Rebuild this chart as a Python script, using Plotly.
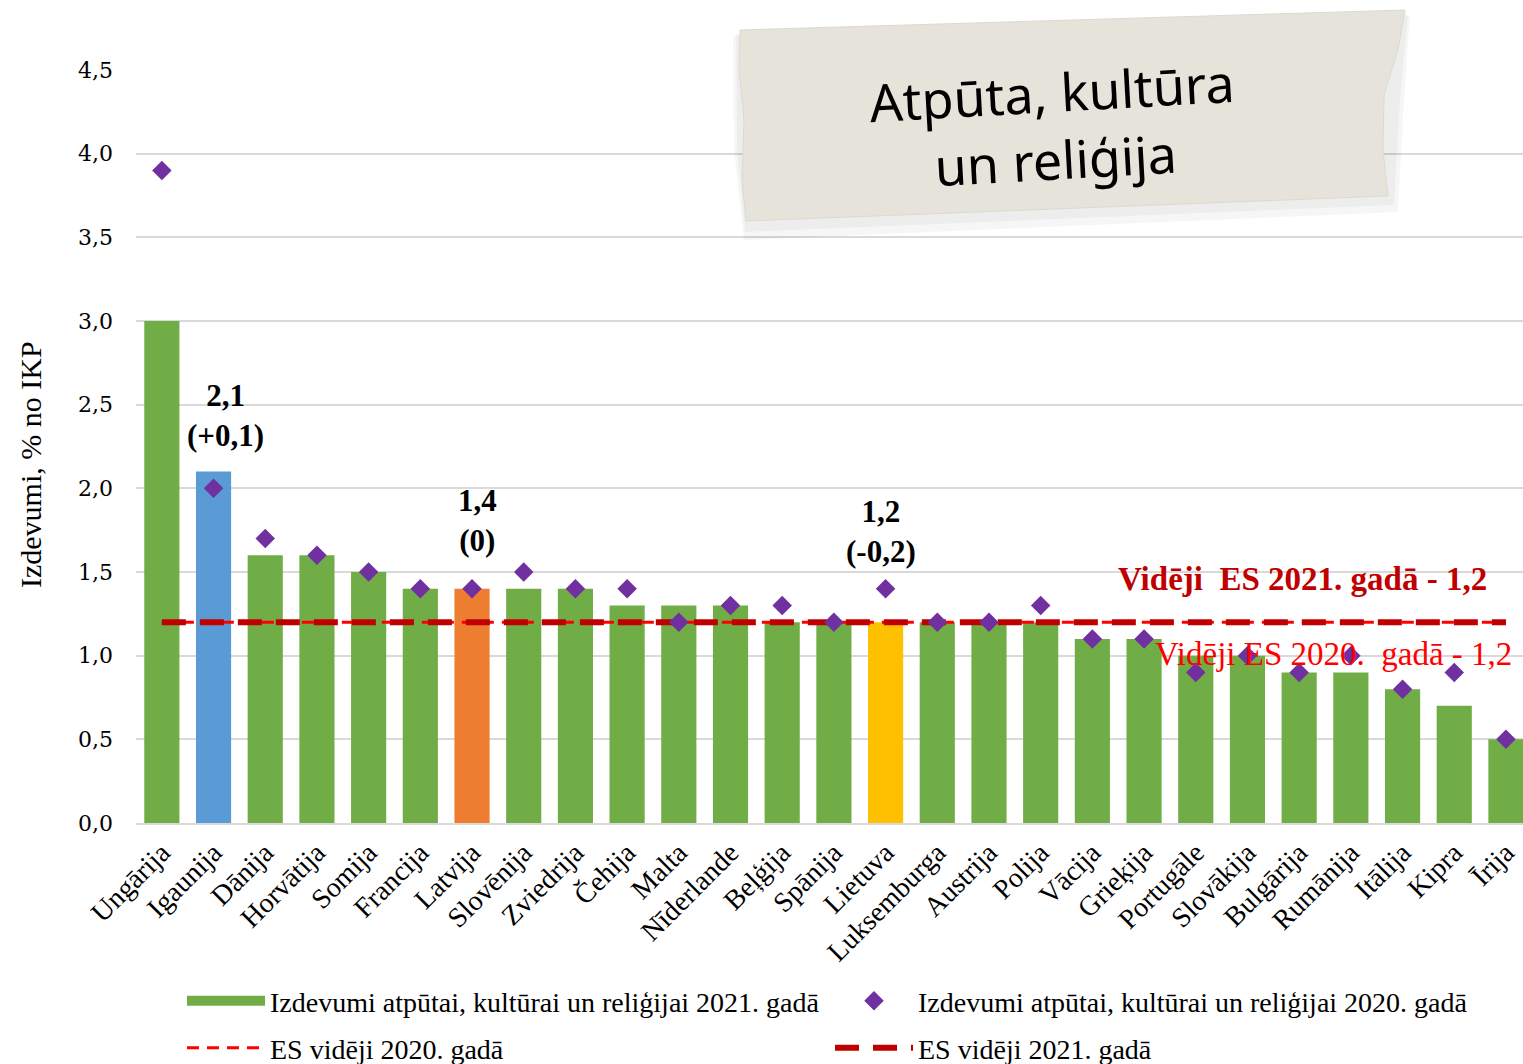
import plotly.graph_objects as go

countries = ["Ungārija", "Igaunija", "Dānija", "Horvātija", "Somija", "Francija", "Latvija",
             "Slovēnija", "Zviedrija", "Čehija", "Malta", "Nīderlande", "Beļģija", "Spānija",
             "Lietuva", "Luksemburga", "Austrija", "Polija", "Vācija", "Grieķija", "Portugāle",
             "Slovākija", "Bulgārija", "Rumānija", "Itālija", "Kipra", "Īrija"]
values_2021 = [3.0, 2.1, 1.6, 1.6, 1.5, 1.4, 1.4, 1.4, 1.4, 1.3, 1.3, 1.3, 1.2, 1.2,
               1.2, 1.2, 1.2, 1.2, 1.1, 1.1, 1.0, 1.0, 0.9, 0.9, 0.8, 0.7, 0.5]
values_2020 = [3.9, 2.0, 1.7, 1.6, 1.5, 1.4, 1.4, 1.5, 1.4, 1.4, 1.2, 1.3, 1.3, 1.2,
               1.4, 1.2, 1.2, 1.3, 1.1, 1.1, 0.9, 1.0, 0.9, 1.0, 0.8, 0.9, 0.5]
eu_avg_2020 = 1.2
eu_avg_2021 = 1.2
highlight = {"Igaunija": "#5b9bd5", "Latvija": "#ed7d31", "Lietuva": "#ffc000"}
labelled = ["Igaunija", "Latvija", "Lietuva"]
label_shift = {"Igaunija": (12, 56), "Latvija": (5, 68), "Lietuva": (-5, 91)}
y_ticks = [0.0, 0.5, 1.0, 1.5, 2.0, 2.5, 3.0, 3.5, 4.0, 4.5]

W, H = 1523, 1064
L, R, T, B = 136, 0, 70, 241
PW, PH = W - L - R, H - T - B


def px(x):
    return (x - L) / PW


def py(y):
    return (H - B - y) / PH


def fmt(v):
    return f"{v:.1f}".replace(".", ",")


SERIF = "Liberation Serif"
GREEN = "#70ad47"

fig = go.Figure()

bar_colors = [highlight.get(c, GREEN) for c in countries]
fig.add_trace(go.Bar(x=countries, y=values_2021, marker_color=bar_colors,
                     marker_line_width=0, width=0.68, showlegend=False,
                     name="Izdevumi atpūtai, kultūrai un reliģijai 2021. gadā"))
# legend entry for bars
fig.add_trace(go.Scatter(x=[None], y=[None], mode="lines",
                         line=dict(color=GREEN, width=14),
                         name="Izdevumi atpūtai, kultūrai un reliģijai 2021. gadā",
                         legend="legend"))
fig.add_trace(go.Scatter(x=countries, y=[eu_avg_2020] * len(countries), mode="lines",
                         line=dict(color="#ff0000", width=3, dash="12px,8px"),
                         name="ES vidēji 2020. gadā", legend="legend2"))
fig.add_trace(go.Scatter(x=countries, y=[eu_avg_2021] * len(countries), mode="lines",
                         line=dict(color="#c00000", width=6, dash="24px,14px"),
                         name="ES vidēji 2021. gadā", legend="legend2"))
fig.add_trace(go.Scatter(x=countries, y=values_2020, mode="markers",
                         marker=dict(symbol="diamond", size=15, color="#7030a0"),
                         name="Izdevumi atpūtai, kultūrai un reliģijai 2020. gadā",
                         legend="legend"))

annotations = []
for c in labelled:
    i = countries.index(c)
    d = values_2021[i] - values_2020[i]
    ds = "0" if abs(d) < 1e-9 else (("+" if d > 0 else "-") + fmt(abs(d)))
    annotations.append(dict(x=c, y=values_2021[i], xref="x", yref="y",
                            text=f"<b>{fmt(values_2021[i])}</b><br><b>({ds})</b>",
                            showarrow=False, xanchor="center", yanchor="middle",
                            xshift=label_shift[c][0], yshift=label_shift[c][1],
                            font=dict(family=SERIF, size=31, color="#000000")))

annotations.append(dict(x=px(1302), y=py(579), xref="paper", yref="paper",
                        xanchor="center", yanchor="middle",
                        text=f"<b>Vidēji  ES 2021. gadā - {fmt(eu_avg_2021)}</b>",
                        showarrow=False, font=dict(family=SERIF, size=33, color="#c00000")))
annotations.append(dict(x=px(1333), y=py(654), xref="paper", yref="paper",
                        xanchor="center", yanchor="middle",
                        text=f"Vidēji ES 2020.  gadā - {fmt(eu_avg_2020)}",
                        showarrow=False, font=dict(family=SERIF, size=33, color="#ff0000")))

# y-axis title
annotations.append(dict(x=px(30), y=py(465), xref="paper", yref="paper",
                        xanchor="center", yanchor="middle", textangle=-90,
                        text="Izdevumi, % no IKP", showarrow=False,
                        font=dict(family=SERIF, size=30, color="#000000")))

# title on tape
annotations.append(dict(x=px(1053), y=py(125), xref="paper", yref="paper",
                        xanchor="center", yanchor="middle",
                        text="Atpūta, kultūra<br>un reliģija", showarrow=False,
                        textangle=-3.2, align="center",
                        font=dict(family="Noto Sans", size=52, color="#000000")))

tape = [(740, 30), (1405, 10), (1398, 50), (1384, 95), (1383, 150), (1388, 196),
        (746, 221), (742, 180), (744, 120), (739, 70)]
shadows = [
    [(733, 36), (1410, 16), (1404, 100), (1398, 212), (744, 240), (734, 150)],
    [(736, 34), (1408, 14), (1400, 100), (1394, 205), (745, 232), (737, 150)],
]


def path(pts):
    return "M " + " L ".join(f"{px(x):.5f},{py(y):.5f}" for x, y in pts) + " Z"


shapes = [dict(type="path", path=path(s), xref="paper", yref="paper",
               fillcolor="rgba(0,0,0,0.035)", line=dict(width=0), layer="above")
          for s in shadows]
shapes.append(dict(type="path", path=path(tape), xref="paper", yref="paper",
                   fillcolor="#e5e3da", line=dict(color="#dcdad0", width=1), layer="above"))

fig.update_layout(
    width=W, height=H,
    margin=dict(l=L, r=R, t=T, b=B, autoexpand=False),
    paper_bgcolor="white", plot_bgcolor="white",
    separators=",.",
    bargap=0.32,
    annotations=annotations,
    shapes=shapes,
    xaxis=dict(range=[-0.5, 26.33], tickangle=-45, showgrid=False,
               showline=True, linecolor="#d9d9d9", linewidth=2, ticks="",
               tickfont=dict(family=SERIF, size=28, color="#000000")),
    yaxis=dict(range=[0, 4.5], tickvals=y_ticks, ticktext=[fmt(v) for v in y_ticks],
               showgrid=True, gridcolor="#d9d9d9", gridwidth=2, zeroline=False,
               showline=False, ticks="", ticklabelstandoff=22,
               tickfont=dict(family="DejaVu Serif", size=22, color="#000000")),
    legend=dict(orientation="h", x=px(182), y=py(1001), xanchor="left", yanchor="middle",
                entrywidth=555, entrywidthmode="pixels", itemwidth=78,
                font=dict(family=SERIF, size=28, color="#000000"), bgcolor="rgba(0,0,0,0)"),
    legend2=dict(orientation="h", x=px(182), y=py(1048), xanchor="left", yanchor="middle",
                 entrywidth=555, entrywidthmode="pixels", itemwidth=78,
                 font=dict(family=SERIF, size=28, color="#000000"), bgcolor="rgba(0,0,0,0)"),
)

fig.write_html("out.html", config={"displayModeBar": False},
               post_script="document.body.style.margin='0';")
